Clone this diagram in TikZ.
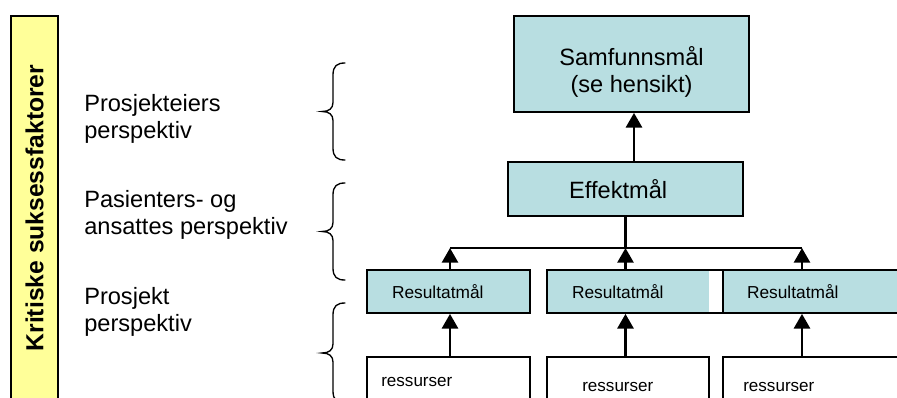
\documentclass[tikz,border=0pt]{standalone}
\usepackage{fontspec}
\setmainfont{Liberation Sans}
\usetikzlibrary{arrows.meta}
\definecolor{boxcyan}{RGB}{184,222,225}
\definecolor{baryellow}{RGB}{255,255,153}
\begin{document}
\begin{tikzpicture}[x=0.75pt,y=-0.75pt,
  bigtxt/.style={font=\fontsize{17.7}{20.6}\selectfont},
  smalltxt/.style={font=\fontsize{13}{15}\selectfont},
  goal/.style={draw=black, line width=1.3pt, fill=boxcyan, inner sep=0pt},
  resbox/.style={draw=black, line width=1.3pt, fill=white, inner sep=0pt, minimum height=42pt},
  restxt/.style={font=\fontsize{12.8}{15}\selectfont, inner sep=0pt, anchor=west},
  sidetxt/.style={bigtxt, align=left, inner sep=0pt, anchor=west},
  arr/.style={line width=2pt, -{Triangle[length=11pt,width=12pt]}},
  thinline/.style={line width=0.9pt},
  bracestyle/.style={line width=1pt, line cap=round}]
\useasboundingbox (0,0) rectangle (897,397);
% side bar
\node[draw=black, line width=0.8pt, fill=baryellow, rotate=90, minimum width=288pt, minimum height=35.25pt, inner sep=0pt,
  font=\bfseries\fontsize{18.5}{20}\selectfont] (bar) at (34.5,208) {Kritiske suksessfaktorer};
% side texts
\node[sidetxt] (p1) at (84,119) {Prosjekteiers\\perspektiv};
\node[sidetxt] (p2) at (84,215) {Pasienters- og\\ansattes perspektiv};
\node[sidetxt] (p3) at (84,312) {Prosjekt\\perspektiv};
% braces
\foreach \t/\b in {63/160,183/280,303/403}{
  \pgfmathsetmacro\m{(\t+\b)/2}
  \draw[bracestyle] (345,\t) .. controls (337,\t) and (333,\t+3) .. (333,\t+12) -- (333,\m-9)
    .. controls (333,\m-3) and (329,\m) .. (322,\m)
    .. controls (329,\m) and (333,\m+3) .. (333,\m+9) -- (333,\b-12)
    .. controls (333,\b-3) and (337,\b) .. (345,\b);
}
% goal boxes
\node[goal, minimum width=176.25pt, minimum height=72pt,
  label={[name=samftxt, bigtxt, align=center, yshift=-6pt]center:Samfunnsmål\\(se hensikt)}] (samf) at (631.5,64) {};
\node[goal, minimum width=176.25pt, minimum height=40.5pt,
  label={[name=efftxt, bigtxt, xshift=-5.5pt]center:Effektmål}] (eff) at (625.5,189) {};
\node[goal, smalltxt, text width=84.75pt, inner xsep=18.75pt, minimum height=32.25pt, align=left] (r1) at (448.5,291.5) {Resultatmål};
\fill[boxcyan] (547,270) rectangle (709,313);
\node[draw=black, line width=1.3pt, inner sep=0pt, smalltxt, text width=94.5pt, inner xsep=18.75pt, minimum height=32.25pt, align=left] (r2) at (635,291.5) {Resultatmål};
\node[goal, smalltxt, text width=104.25pt, inner xsep=18pt, minimum height=32.25pt, align=left] (r3) at (816.5,291.5) {Resultatmål};
% resource boxes
\node[resbox, minimum width=122.25pt] (s1) at (448.5,385) {};
\node[resbox, minimum width=121.5pt] (s2) at (628,385) {};
\node[resbox, minimum width=140.25pt] (s3) at (816.5,385) {};
\node[restxt] (t1) at (381,382) {ressurser};
\node[restxt] (t2) at (582,387) {ressurser};
\node[restxt] (t3) at (743,387) {ressurser};
% connectors
\coordinate (j0) at (634,137);
\coordinate (j1) at (450,248);
\coordinate (j2) at (625.5,248);
\coordinate (j3) at (802,248);
\draw[arr] (eff.north -| j0) -- (samf.south -| j0);
\draw[thinline] (j1) -- (j3);
\draw[line width=2pt] (eff.south) -- (j2);
\draw[arr] (j1 |- r1.north) -- (j1);
\draw[arr] (j2 |- r2.north) -- (j2);
\draw[arr] (j3 |- r3.north) -- (j3);
\draw[arr] (s1.north -| j1) -- (r1.south -| j1);
\draw[arr] (s2.north -| j2) -- (r2.south -| j2);
\draw[arr] (s3.north -| j3) -- (r3.south -| j3);
\end{tikzpicture}
\end{document}
